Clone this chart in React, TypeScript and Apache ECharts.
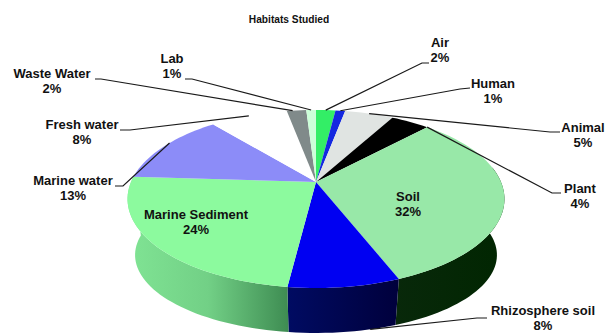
import React, { useEffect, useRef } from "react";
import * as echarts from "echarts";

// Share of studies per habitat, clockwise from twelve o'clock.
const habitats = ["Air", "Human", "Animal", "Plant", "Soil", "Rhizosphere soil", "Marine Sediment", "Marine water", "Fresh water", "Waste Water", "Lab"];
const shares = [2, 1, 5, 4, 32, 8, 24, 13, 8, 2, 1];
const topColors = ["#33ee66", "#1428e0", "#e0e4e2", "#000000", "#98e8a8", "#0000f2", "#8cfa9e", "#8c8cf8", "#ffffff", "#808a8a", "#ccffd9"];
const sideColors: (string[] | null)[] = [null, null, null, null, ["#08280a", "#012601"], ["#000b62", "#00003c"], ["#80e494", "#72d086", "#3e8c52"], null, null, null, null];

// Label centre, elbow of the leader, where the leader starts, and where on the rim it lands (percent round the pie).
type Callout = { x: number; y: number; from?: [number, number]; elbow?: [number, number]; rim?: number; lower?: boolean };
const callouts: Callout[] = [
  { x: 440, y: 50, from: [429, 63], elbow: [422, 63], rim: 1 },
  { x: 493, y: 91, from: [470, 88], elbow: [460, 89], rim: 2.5 },
  { x: 583, y: 135, from: [560, 132], elbow: [550, 132], rim: 5.5 },
  { x: 580, y: 196, from: [561, 193], elbow: [552, 193], rim: 12 },
  { x: 408, y: 204 },
  { x: 543, y: 318, from: [487, 318], elbow: [477, 318], rim: 46, lower: true },
  { x: 196, y: 222 },
  { x: 73, y: 188, from: [115, 186], elbow: [123, 186], rim: 83.3 },
  { x: 82, y: 132, from: [120, 130], elbow: [130, 130], rim: 93 },
  { x: 52, y: 81, from: [95, 79], elbow: [101, 79], rim: 97.6 },
  { x: 172, y: 66, from: [185, 79], elbow: [192, 79], rim: 99.5 },
];

// Perspective disc: the hub projects to (hubX, hubY); the near edge is larger than the far edge.
const hubX = 316;
const hubY = 182;
const radiusX = 185;
const radiusY = 85.75;
const tilt = -0.191;
// The underside is a slightly smaller, flatter copy of the upper face.
const faceMidY = 199;
const undersideMidY = 255;
const undersideScaleX = 0.96;
const undersideScaleY = 0.876;
const FRONT_START = 80;
const FRONT_END = 280;

function rim(degrees: number, lower = false): [number, number] {
  const a = (degrees * Math.PI) / 180;
  const u = Math.sin(a);
  const v = -Math.cos(a);
  const w = 1 + tilt * v;
  const x = hubX + (radiusX * u) / w;
  const y = hubY + (radiusY * v) / w;
  if (!lower) return [x, y];
  return [hubX + (x - hubX) * undersideScaleX, undersideMidY + (y - faceMidY) * undersideScaleY];
}

function arc(from: number, to: number, lower = false): [number, number][] {
  const steps = Math.max(2, Math.ceil(Math.abs(to - from) / 2));
  const pts: [number, number][] = [];
  for (let i = 0; i <= steps; i++) pts.push(rim(from + ((to - from) * i) / steps, lower));
  return pts;
}

const total = shares.reduce((s, v) => s + v, 0);
function sliceRange(i: number): [number, number] {
  const before = shares.slice(0, i).reduce((s, v) => s + v, 0);
  return [(before / total) * 360, ((before + shares[i]) / total) * 360];
}

const FONT = "'Liberation Sans', Arial, sans-serif";

export default function App() {
  const ref = useRef<HTMLDivElement>(null);

  useEffect(() => {
    document.body.style.margin = "0";
    const chart = echarts.init(ref.current!, undefined, { renderer: "svg" });
    const rows = habitats.map((name, i) => ({ name, value: shares[i] }));
    chart.setOption({
      animation: false,
      backgroundColor: "#ffffff",
      title: {
        text: "Habitats Studied",
        left: 284,
        top: 9,
        textAlign: "center",
        textStyle: { fontFamily: FONT, fontSize: 10.2, fontWeight: "bold", color: "#111" },
      },
      series: [
        {
          // Wall of the disc, front half only.
          type: "custom",
          coordinateSystem: "none",
          silent: true,
          z: 1,
          data: rows,
          renderItem: (params: any) => {
            const i = params.dataIndex;
            const colors = sideColors[i];
            const [a0, a1] = sliceRange(i);
            const from = Math.max(a0, FRONT_START);
            const to = Math.min(a1, FRONT_END);
            if (!colors || to <= from) return { type: "group", children: [] };
            return {
              type: "polygon",
              shape: { points: [...arc(from, to), ...arc(to, from, true)] },
              style: {
                fill: new echarts.graphic.LinearGradient(
                  0,
                  0,
                  1,
                  0,
                  colors.map((color, k) => ({ offset: k / (colors.length - 1), color })),
                ),
              },
            };
          },
        },
        {
          // Upper face of each slice, a wedge from the hub to the rim.
          type: "custom",
          coordinateSystem: "none",
          silent: true,
          z: 2,
          data: rows,
          renderItem: (params: any) => {
            const i = params.dataIndex;
            const [a0, a1] = sliceRange(i);
            return {
              type: "polygon",
              shape: { points: [[hubX, hubY], ...arc(a0, a1)] },
              style: { fill: topColors[i] },
            };
          },
        },
        {
          // Callout text and leader lines.
          type: "custom",
          coordinateSystem: "none",
          silent: true,
          z: 3,
          data: rows,
          renderItem: (params: any) => {
            const i = params.dataIndex;
            const c = callouts[i];
            const children: any[] = [];
            if (c.from && c.elbow && c.rim !== undefined) {
              children.push({
                type: "polyline",
                shape: { points: [c.from, c.elbow, rim((c.rim / 100) * 360, c.lower)] },
                style: { fill: "none", stroke: "#1a1a1a", lineWidth: 1.2 },
              });
            }
            children.push({
              type: "text",
              style: {
                text: `${habitats[i]}\n${shares[i]}%`,
                x: c.x,
                y: c.y,
                align: "center",
                verticalAlign: "middle",
                lineHeight: 15.5,
                fill: "#111",
                font: `bold 13px ${FONT}`,
              },
            });
            return { type: "group", children };
          },
        },
      ],
    });
    return () => chart.dispose();
  }, []);

  return <div ref={ref} style={{ width: 607, height: 333 }} />;
}
